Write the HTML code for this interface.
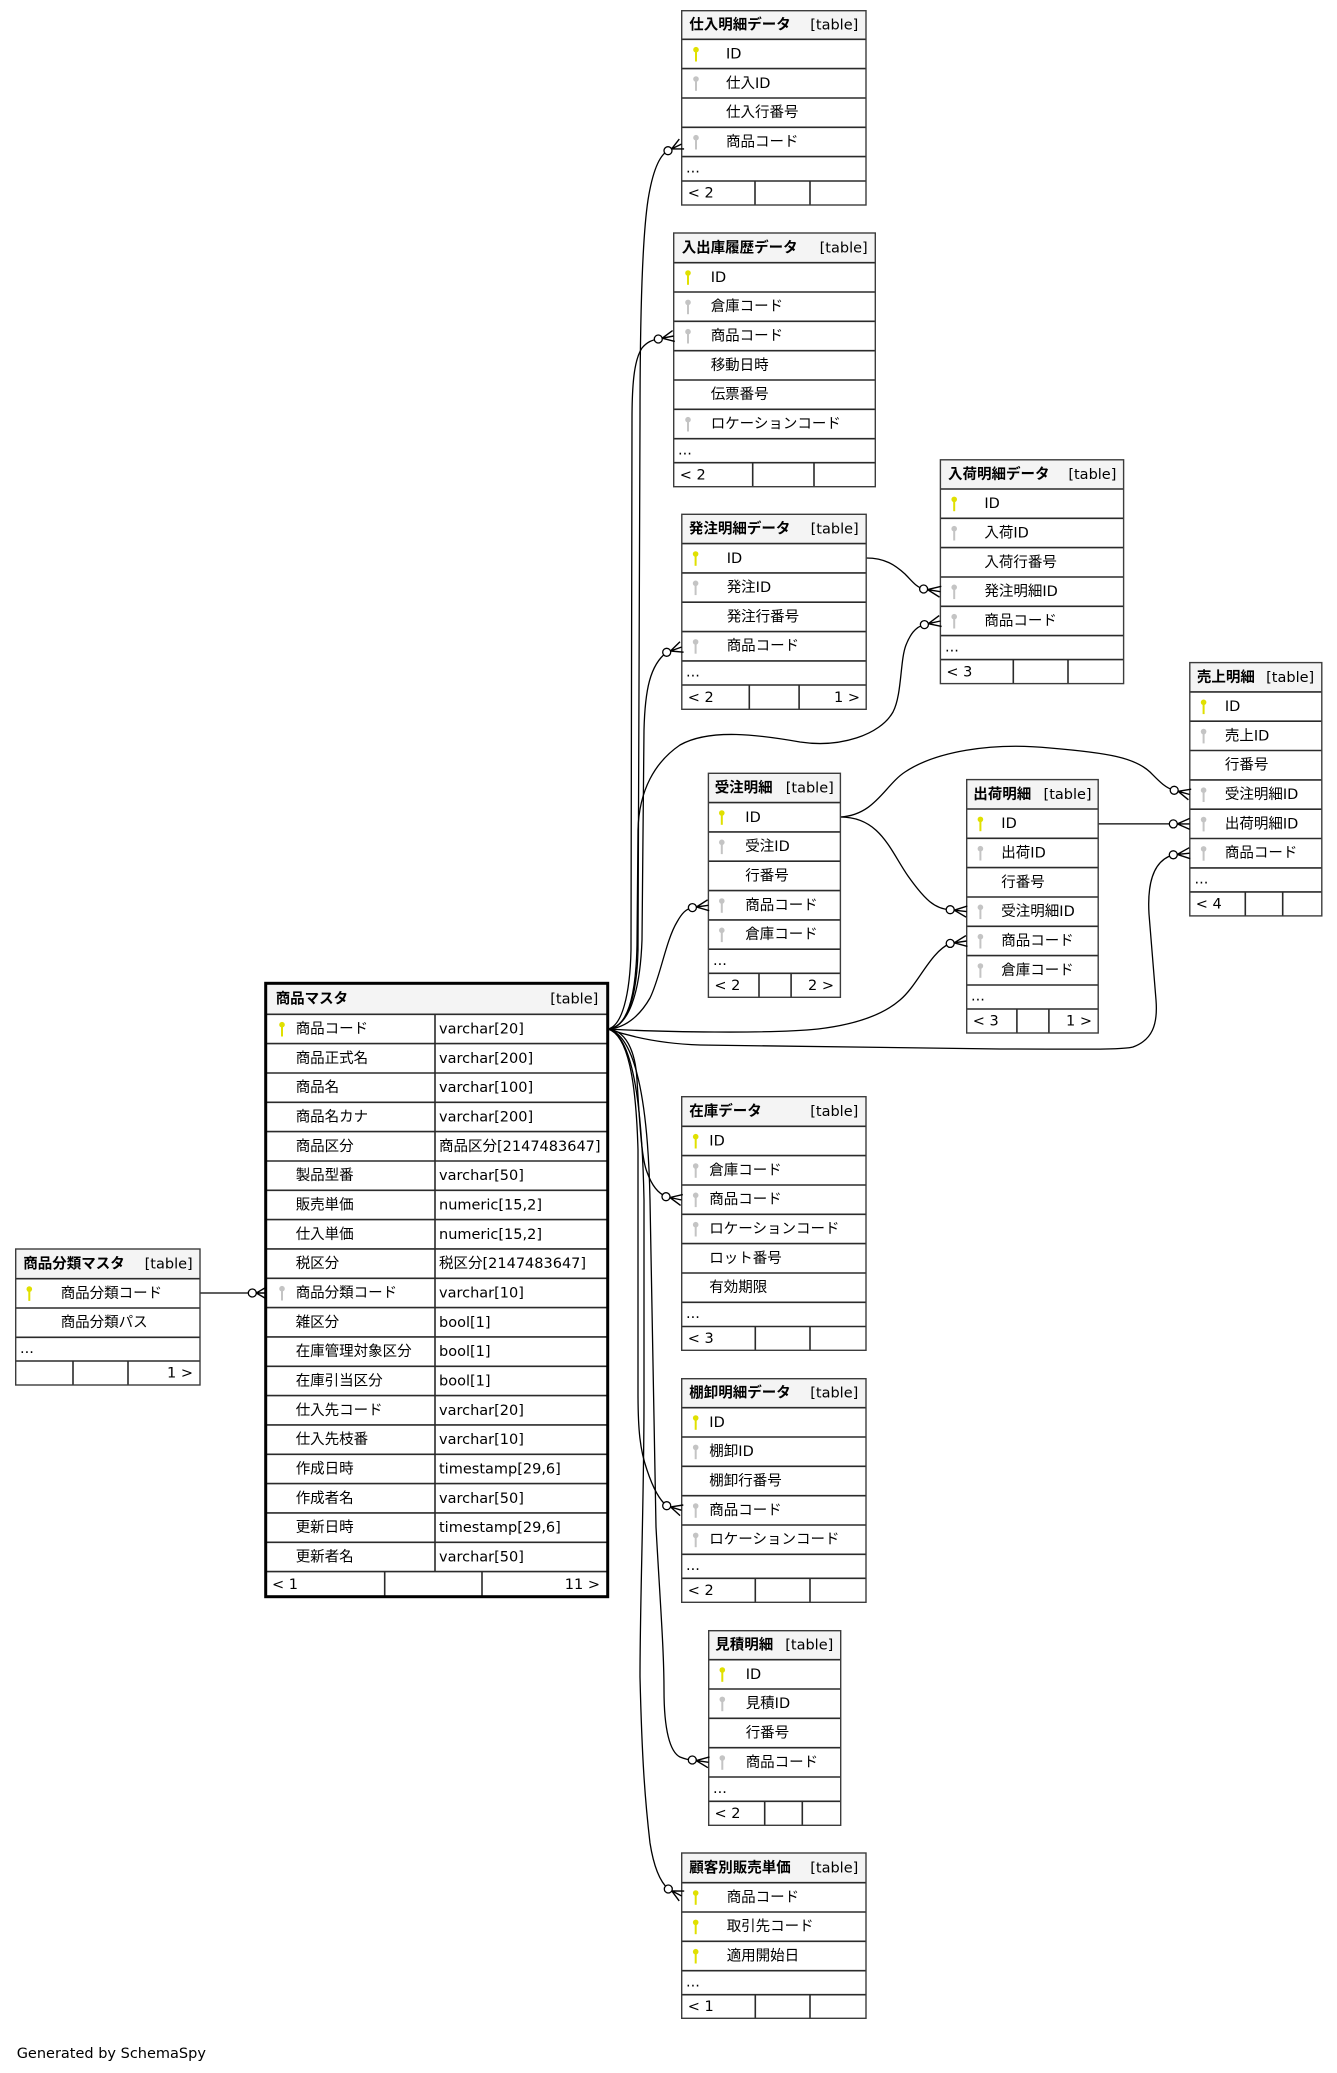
<!DOCTYPE html>
<html><head><meta charset="utf-8"><style>
html,body{margin:0;padding:0;background:#fff;}
svg{display:block;}
svg text{font-family:"DejaVu Sans","Noto Sans CJK JP",sans-serif;font-size:14.5px;fill:#000;}
.h{font-weight:bold;}
.r{text-anchor:end;}
.ln{stroke:#2b2b2b;stroke-width:1.6;fill:none;}
.ob{fill:none;stroke:#3c3c3c;stroke-width:1.4;}
.e{fill:none;stroke:#000;stroke-width:1.3;}
.cr{fill:none;stroke:#000;stroke-width:1.4;}
.c{fill:#fff;stroke:#000;stroke-width:1.3;}
.pk{fill:#e0e000;}
.fk{fill:#c4c4c4;}
.hd{fill:#f4f4f4;}
</style></head><body>
<svg width="1337" height="2073" viewBox="0 0 1337 2073" xmlns="http://www.w3.org/2000/svg">
<defs><g id="ky"><circle cx="0" cy="-4.3" r="2.8"/><rect x="-1" y="-3" width="2" height="10.5"/></g></defs>
<rect x="0" y="0" width="1337" height="2073" fill="#fff"/>

<!-- edges -->
<path class="e" d="M608,1029 C628,1027 637,995 638,950 L640,420 C640,330 642,240 648,200 C652,175 658,156 668,150.7"/>
<path class="e" d="M608,1029 C622,1026 630,995 631,950 L632,420 C632,385 634,360 642,348 C647,342 652,340 658.3,339"/>
<path class="e" d="M608,1029 C628,1027 640,995 642,940 L644,730 C645,690 650,665 666.7,652.3"/>
<path class="e" d="M608,1029 C628,1028 636,995 637,945 L638,830 C639,790 655,762 680,745 C710,728 760,735 800,742 C840,748 880,735 893,712 C902,695 900,660 906,645 C910,635 915,627 924.4,624.6"/>
<path class="e" d="M608,1029 C628,1028 642,1012 650,998 C660,978 666,940 677,922 C682,913 686,909 692.4,907.6"/>
<path class="e" d="M608,1029 C660,1032 770,1034 818,1029 C860,1024 885,1013 900,1000 C918,985 930,952 950.2,943.4"/>
<path class="e" d="M608,1029 C640,1040 670,1044 700,1045 L1000,1049 C1080,1049 1122,1050 1133,1047 C1152,1040 1158,1025 1156,1000 L1149,914 C1147,880 1155,860 1173.3,854.8"/>
<path class="e" d="M608,1029 C630,1031 636,1060 637,1080 C640,1130 642,1160 647,1172 C652,1186 658,1193 666,1196.7"/>
<path class="e" d="M608,1029 C628,1035 636,1080 638,1150 L638,1393 C638,1430 640,1450 647,1470 C652,1485 658,1499 666.7,1505.7"/>
<path class="e" d="M608,1029 C635,1035 648,1100 650,1200 L656,1527 C660,1600 664,1650 664,1690 C664,1730 670,1752 680,1757 C685,1759 688,1760 692.3,1760"/>
<path class="e" d="M608,1029 C632,1035 642,1100 644,1200 L644,1400 C644,1500 640,1600 640,1677 C642,1760 645,1800 650,1843 C653,1862 658,1880 668.3,1889"/>
<path class="e" d="M200,1293 L252.3,1293"/>
<path class="e" d="M866.2,558 C885,558 895,565 905,574 C912,581 916,587 923.6,589"/>
<path class="e" d="M840.4,817 C880,817 890,850 908,876 C925,900 935,909 950.2,909.7"/>
<path class="e" d="M840.4,817 C875,815 885,785 905,772 C935,752 990,742 1050,748 C1110,753 1135,758 1150,772 C1158,780 1165,788 1174.2,790.3"/>
<path class="e" d="M1098.2,823.9 L1173.3,823.9"/>

<!-- T1 仕入明細データ -->
<rect x="681.7" y="10.7" width="184.3" height="194.3" fill="#fff"/>
<rect x="681.7" y="10.7" width="184.3" height="28.6" class="hd"/>
<path class="ln" d="M681.7,39.3H866M681.7,68.6H866M681.7,98H866M681.7,127.3H866M681.7,156.6H866M681.7,181H866M755,181V205M810,181V205"/>
<rect x="681.7" y="10.7" width="184.3" height="194.3" class="ob"/>
<text x="689.3" y="29.5" class="h">仕入明細データ</text><text x="858.3" y="29.5" class="r">[table]</text>
<use href="#ky" x="696" y="54" class="pk"/><text x="726" y="58.5">ID</text>
<use href="#ky" x="696" y="83.3" class="fk"/><text x="726" y="87.8">仕入ID</text>
<text x="726" y="117.1">仕入行番号</text>
<use href="#ky" x="696" y="142" class="fk"/><text x="726" y="146.5">商品コード</text>
<text x="686" y="172.5">...</text>
<text x="687.7" y="197.7">&lt; 2</text>

<!-- T2 入出庫履歴データ -->
<rect x="673.7" y="233" width="201.6" height="253.7" fill="#fff"/>
<rect x="673.7" y="233" width="201.6" height="29.7" class="hd"/>
<path class="ln" d="M673.7,262.7H875.3M673.7,292H875.3M673.7,321.3H875.3M673.7,350.7H875.3M673.7,380H875.3M673.7,409.3H875.3M673.7,438.7H875.3M673.7,462.7H875.3M752.7,462.7V486.7M814,462.7V486.7"/>
<rect x="673.7" y="233" width="201.6" height="253.7" class="ob"/>
<text x="681.7" y="252.4" class="h">入出庫履歴データ</text><text x="867.7" y="252.4" class="r">[table]</text>
<use href="#ky" x="688" y="277.3" class="pk"/><text x="710.7" y="281.8">ID</text>
<use href="#ky" x="688" y="306.7" class="fk"/><text x="710.7" y="311.2">倉庫コード</text>
<use href="#ky" x="688" y="336" class="fk"/><text x="710.7" y="340.5">商品コード</text>
<text x="710.7" y="369.8">移動日時</text>
<text x="710.7" y="399.2">伝票番号</text>
<use href="#ky" x="688" y="424" class="fk"/><text x="710.7" y="428.5">ロケーションコード</text>
<text x="678" y="454.5">...</text>
<text x="679.7" y="479.4">&lt; 2</text>

<!-- T3 発注明細データ -->
<rect x="681.8" y="514.3" width="184.4" height="195" fill="#fff"/>
<rect x="681.8" y="514.3" width="184.4" height="29.3" class="hd"/>
<path class="ln" d="M681.8,543.6H866.2M681.8,572.9H866.2M681.8,602.2H866.2M681.8,631.6H866.2M681.8,660.9H866.2M681.8,685H866.2M749.3,685V709.3M799.1,685V709.3"/>
<rect x="681.8" y="514.3" width="184.4" height="195" class="ob"/>
<text x="688.9" y="533.5" class="h">発注明細データ</text><text x="858.7" y="533.5" class="r">[table]</text>
<use href="#ky" x="695.6" y="558.3" class="pk"/><text x="726.7" y="562.8">ID</text>
<use href="#ky" x="695.6" y="587.6" class="fk"/><text x="726.7" y="592.1">発注ID</text>
<text x="726.7" y="621.4">発注行番号</text>
<use href="#ky" x="695.6" y="646.2" class="fk"/><text x="726.7" y="650.7">商品コード</text>
<text x="686" y="676.7">...</text>
<text x="687.8" y="701.9">&lt; 2</text><text x="860" y="701.9" class="r">1 &gt;</text>

<!-- T4 入荷明細データ -->
<rect x="940.4" y="459.8" width="183.2" height="223.8" fill="#fff"/>
<rect x="940.4" y="459.8" width="183.2" height="29.2" class="hd"/>
<path class="ln" d="M940.4,489H1123.6M940.4,518.3H1123.6M940.4,547.6H1123.6M940.4,577H1123.6M940.4,606.3H1123.6M940.4,635.6H1123.6M940.4,659.6H1123.6M1013.3,659.6V683.6M1068,659.6V683.6"/>
<rect x="940.4" y="459.8" width="183.2" height="223.8" class="ob"/>
<text x="948" y="478.9" class="h">入荷明細データ</text><text x="1116.4" y="478.9" class="r">[table]</text>
<use href="#ky" x="954.2" y="503.7" class="pk"/><text x="984.4" y="508.2">ID</text>
<use href="#ky" x="954.2" y="533" class="fk"/><text x="984.4" y="537.5">入荷ID</text>
<text x="984.4" y="566.8">入荷行番号</text>
<use href="#ky" x="954.2" y="591.6" class="fk"/><text x="984.4" y="596.1">発注明細ID</text>
<use href="#ky" x="954.2" y="621" class="fk"/><text x="984.4" y="625.5">商品コード</text>
<text x="945" y="651.3">...</text>
<text x="946.4" y="676.3">&lt; 3</text>

<!-- T5 売上明細 -->
<rect x="1189.8" y="662.6" width="132" height="253.3" fill="#fff"/>
<rect x="1189.8" y="662.6" width="132" height="29.3" class="hd"/>
<path class="ln" d="M1189.8,691.9H1321.8M1189.8,721.2H1321.8M1189.8,750.5H1321.8M1189.8,779.9H1321.8M1189.8,809.2H1321.8M1189.8,838.5H1321.8M1189.8,867.9H1321.8M1189.8,891.9H1321.8M1245.3,891.9V915.9M1282.7,891.9V915.9"/>
<rect x="1189.8" y="662.6" width="132" height="253.3" class="ob"/>
<text x="1196.9" y="681.8" class="h">売上明細</text><text x="1314.2" y="681.8" class="r">[table]</text>
<use href="#ky" x="1203.6" y="706.6" class="pk"/><text x="1224.9" y="711.1">ID</text>
<use href="#ky" x="1203.6" y="735.9" class="fk"/><text x="1224.9" y="740.4">売上ID</text>
<text x="1224.9" y="769.7">行番号</text>
<use href="#ky" x="1203.6" y="794.5" class="fk"/><text x="1224.9" y="799">受注明細ID</text>
<use href="#ky" x="1203.6" y="823.9" class="fk"/><text x="1224.9" y="828.4">出荷明細ID</text>
<use href="#ky" x="1203.6" y="853.2" class="fk"/><text x="1224.9" y="857.7">商品コード</text>
<text x="1194.5" y="883.6">...</text>
<text x="1195.8" y="908.6">&lt; 4</text>

<!-- T6 受注明細 -->
<rect x="708.4" y="773.3" width="132" height="224" fill="#fff"/>
<rect x="708.4" y="773.3" width="132" height="29.3" class="hd"/>
<path class="ln" d="M708.4,802.6H840.4M708.4,831.9H840.4M708.4,861.2H840.4M708.4,890.6H840.4M708.4,919.9H840.4M708.4,949.2H840.4M708.4,973.3H840.4M759,973.3V997.3M791.1,973.3V997.3"/>
<rect x="708.4" y="773.3" width="132" height="224" class="ob"/>
<text x="714.7" y="792.5" class="h">受注明細</text><text x="833.8" y="792.5" class="r">[table]</text>
<use href="#ky" x="721.8" y="817.3" class="pk"/><text x="745.3" y="821.8">ID</text>
<use href="#ky" x="721.8" y="846.6" class="fk"/><text x="745.3" y="851.1">受注ID</text>
<text x="745.3" y="880.4">行番号</text>
<use href="#ky" x="721.8" y="905.3" class="fk"/><text x="745.3" y="909.8">商品コード</text>
<use href="#ky" x="721.8" y="934.6" class="fk"/><text x="745.3" y="939.1">倉庫コード</text>
<text x="713" y="965">...</text>
<text x="714.4" y="990">&lt; 2</text><text x="834" y="990" class="r">2 &gt;</text>

<!-- T7 出荷明細 -->
<rect x="966.7" y="779.6" width="131.5" height="253.4" fill="#fff"/>
<rect x="966.7" y="779.6" width="131.5" height="29.4" class="hd"/>
<path class="ln" d="M966.7,809H1098.2M966.7,838.3H1098.2M966.7,867.6H1098.2M966.7,897H1098.2M966.7,926.3H1098.2M966.7,955.6H1098.2M966.7,985H1098.2M966.7,1009H1098.2M1016.9,1009V1033M1048.9,1009V1033"/>
<rect x="966.7" y="779.6" width="131.5" height="253.4" class="ob"/>
<text x="973.3" y="798.8" class="h">出荷明細</text><text x="1091.6" y="798.8" class="r">[table]</text>
<use href="#ky" x="980.4" y="823.7" class="pk"/><text x="1001.3" y="828.2">ID</text>
<use href="#ky" x="980.4" y="853" class="fk"/><text x="1001.3" y="857.5">出荷ID</text>
<text x="1001.3" y="886.8">行番号</text>
<use href="#ky" x="980.4" y="911.6" class="fk"/><text x="1001.3" y="916.1">受注明細ID</text>
<use href="#ky" x="980.4" y="941" class="fk"/><text x="1001.3" y="945.5">商品コード</text>
<use href="#ky" x="980.4" y="970.3" class="fk"/><text x="1001.3" y="974.8">倉庫コード</text>
<text x="971" y="1000.7">...</text>
<text x="972.7" y="1025.7">&lt; 3</text><text x="1092" y="1025.7" class="r">1 &gt;</text>

<!-- T8 商品マスタ -->
<rect x="265.7" y="983.3" width="342" height="613.4" fill="#fff"/>
<rect x="265.7" y="983.3" width="342" height="31" class="hd"/>
<path class="ln" d="M265.7,1014.3H607.7M265.7,1043.6H607.7M265.7,1073H607.7M265.7,1102.3H607.7M265.7,1131.6H607.7M265.7,1161H607.7M265.7,1190.3H607.7M265.7,1219.6H607.7M265.7,1248.9H607.7M265.7,1278.3H607.7M265.7,1307.6H607.7M265.7,1336.9H607.7M265.7,1366.3H607.7M265.7,1395.6H607.7M265.7,1424.9H607.7M265.7,1454.3H607.7M265.7,1483.6H607.7M265.7,1512.9H607.7M265.7,1542.3H607.7M265.7,1571.6H607.7M435,1014.3V1571.6M384.7,1571.6V1596.7M482,1571.6V1596.7"/>
<rect x="265.7" y="983.3" width="342" height="613.4" fill="none" stroke="#000" stroke-width="3"/>
<text x="275.7" y="1003.3" class="h">商品マスタ</text><text x="598.3" y="1003.3" class="r">[table]</text>
<use href="#ky" x="282" y="1029" class="pk"/><text x="295.7" y="1033.5">商品コード</text><text x="439" y="1033.5">varchar[20]</text>
<text x="295.7" y="1062.8">商品正式名</text><text x="439" y="1062.8">varchar[200]</text>
<text x="295.7" y="1092.1">商品名</text><text x="439" y="1092.1">varchar[100]</text>
<text x="295.7" y="1121.5">商品名カナ</text><text x="439" y="1121.5">varchar[200]</text>
<text x="295.7" y="1150.8">商品区分</text><text x="439" y="1150.8">商品区分[2147483647]</text>
<text x="295.7" y="1180.1">製品型番</text><text x="439" y="1180.1">varchar[50]</text>
<text x="295.7" y="1209.5">販売単価</text><text x="439" y="1209.5">numeric[15,2]</text>
<text x="295.7" y="1238.8">仕入単価</text><text x="439" y="1238.8">numeric[15,2]</text>
<text x="295.7" y="1268.1">税区分</text><text x="439" y="1268.1">税区分[2147483647]</text>
<use href="#ky" x="282" y="1293" class="fk"/><text x="295.7" y="1297.5">商品分類コード</text><text x="439" y="1297.5">varchar[10]</text>
<text x="295.7" y="1326.8">雑区分</text><text x="439" y="1326.8">bool[1]</text>
<text x="295.7" y="1356.1">在庫管理対象区分</text><text x="439" y="1356.1">bool[1]</text>
<text x="295.7" y="1385.5">在庫引当区分</text><text x="439" y="1385.5">bool[1]</text>
<text x="295.7" y="1414.8">仕入先コード</text><text x="439" y="1414.8">varchar[20]</text>
<text x="295.7" y="1444.1">仕入先枝番</text><text x="439" y="1444.1">varchar[10]</text>
<text x="295.7" y="1473.5">作成日時</text><text x="439" y="1473.5">timestamp[29,6]</text>
<text x="295.7" y="1502.8">作成者名</text><text x="439" y="1502.8">varchar[50]</text>
<text x="295.7" y="1532.1">更新日時</text><text x="439" y="1532.1">timestamp[29,6]</text>
<text x="295.7" y="1561.5">更新者名</text><text x="439" y="1561.5">varchar[50]</text>
<text x="272" y="1588.9">&lt; 1</text><text x="600" y="1588.9" class="r">11 &gt;</text>

<!-- T9 商品分類マスタ -->
<rect x="15.7" y="1249" width="184.3" height="136" fill="#fff"/>
<rect x="15.7" y="1249" width="184.3" height="29.7" class="hd"/>
<path class="ln" d="M15.7,1278.7H200M15.7,1308H200M15.7,1337.3H200M15.7,1361H200M73,1361V1385M128,1361V1385"/>
<rect x="15.7" y="1249" width="184.3" height="136" class="ob"/>
<text x="23.3" y="1268.4" class="h">商品分類マスタ</text><text x="192.7" y="1268.4" class="r">[table]</text>
<use href="#ky" x="29.3" y="1293.4" class="pk"/><text x="60.7" y="1297.9">商品分類コード</text>
<text x="60.7" y="1327.2">商品分類パス</text>
<text x="20" y="1352.8">...</text>
<text x="193" y="1377.7" class="r">1 &gt;</text>

<!-- T10 在庫データ -->
<rect x="681.7" y="1096.7" width="184.3" height="253.6" fill="#fff"/>
<rect x="681.7" y="1096.7" width="184.3" height="29.6" class="hd"/>
<path class="ln" d="M681.7,1126.3H866M681.7,1155.6H866M681.7,1185H866M681.7,1214.3H866M681.7,1243.6H866M681.7,1273H866M681.7,1302.3H866M681.7,1326.5H866M755.3,1326.5V1350.3M810,1326.5V1350.3"/>
<rect x="681.7" y="1096.7" width="184.3" height="253.6" class="ob"/>
<text x="689.3" y="1116" class="h">在庫データ</text><text x="858.3" y="1116" class="r">[table]</text>
<use href="#ky" x="695.7" y="1141" class="pk"/><text x="709.3" y="1145.5">ID</text>
<use href="#ky" x="695.7" y="1170.3" class="fk"/><text x="709.3" y="1174.8">倉庫コード</text>
<use href="#ky" x="695.7" y="1199.6" class="fk"/><text x="709.3" y="1204.1">商品コード</text>
<use href="#ky" x="695.7" y="1229" class="fk"/><text x="709.3" y="1233.5">ロケーションコード</text>
<text x="709.3" y="1262.8">ロット番号</text>
<text x="709.3" y="1292.1">有効期限</text>
<text x="686" y="1318">...</text>
<text x="687.7" y="1343">&lt; 3</text>

<!-- T11 棚卸明細データ -->
<rect x="681.7" y="1378.7" width="184.3" height="223.6" fill="#fff"/>
<rect x="681.7" y="1378.7" width="184.3" height="29" class="hd"/>
<path class="ln" d="M681.7,1407.7H866M681.7,1437H866M681.7,1466.3H866M681.7,1495.7H866M681.7,1525H866M681.7,1554.3H866M681.7,1578.3H866M755.3,1578.3V1602.3M810,1578.3V1602.3"/>
<rect x="681.7" y="1378.7" width="184.3" height="223.6" class="ob"/>
<text x="689.3" y="1397.7" class="h">棚卸明細データ</text><text x="858.3" y="1397.7" class="r">[table]</text>
<use href="#ky" x="695.7" y="1422.3" class="pk"/><text x="709.3" y="1426.8">ID</text>
<use href="#ky" x="695.7" y="1451.7" class="fk"/><text x="709.3" y="1456.2">棚卸ID</text>
<text x="709.3" y="1485.5">棚卸行番号</text>
<use href="#ky" x="695.7" y="1510.3" class="fk"/><text x="709.3" y="1514.8">商品コード</text>
<use href="#ky" x="695.7" y="1539.7" class="fk"/><text x="709.3" y="1544.2">ロケーションコード</text>
<text x="686" y="1570">...</text>
<text x="687.7" y="1595">&lt; 2</text>

<!-- T12 見積明細 -->
<rect x="708.7" y="1630.7" width="132" height="194.6" fill="#fff"/>
<rect x="708.7" y="1630.7" width="132" height="29" class="hd"/>
<path class="ln" d="M708.7,1659.7H840.7M708.7,1689H840.7M708.7,1718.3H840.7M708.7,1747.7H840.7M708.7,1777H840.7M708.7,1801.3H840.7M764.7,1801.3V1825.3M802.3,1801.3V1825.3"/>
<rect x="708.7" y="1630.7" width="132" height="194.6" class="ob"/>
<text x="715.3" y="1649.7" class="h">見積明細</text><text x="833.3" y="1649.7" class="r">[table]</text>
<use href="#ky" x="722.3" y="1674.3" class="pk"/><text x="745.7" y="1678.8">ID</text>
<use href="#ky" x="722.3" y="1703.7" class="fk"/><text x="745.7" y="1708.2">見積ID</text>
<text x="745.7" y="1737.5">行番号</text>
<use href="#ky" x="722.3" y="1762.3" class="fk"/><text x="745.7" y="1766.8">商品コード</text>
<text x="713" y="1793">...</text>
<text x="714.5" y="1818">&lt; 2</text>

<!-- T13 顧客別販売単価 -->
<rect x="681.7" y="1853" width="184.3" height="165.3" fill="#fff"/>
<rect x="681.7" y="1853" width="184.3" height="29.7" class="hd"/>
<path class="ln" d="M681.7,1882.7H866M681.7,1912H866M681.7,1941.3H866M681.7,1970.7H866M681.7,1994.7H866M755.3,1994.7V2018.3M810,1994.7V2018.3"/>
<rect x="681.7" y="1853" width="184.3" height="165.3" class="ob"/>
<text x="689.3" y="1872.3" class="h">顧客別販売単価</text><text x="858.3" y="1872.3" class="r">[table]</text>
<use href="#ky" x="695.7" y="1897.3" class="pk"/><text x="726.7" y="1901.8">商品コード</text>
<use href="#ky" x="695.7" y="1926.7" class="pk"/><text x="726.7" y="1931.2">取引先コード</text>
<use href="#ky" x="695.7" y="1956" class="pk"/><text x="726.7" y="1960.5">適用開始日</text>
<text x="686" y="1986.5">...</text>
<text x="687.7" y="2011.2">&lt; 1</text>

<!-- crow's feet -->
<path class="cr" d="M671.6,148.9L681.7,144M671.6,148.9L684.1,148.9M671.6,148.9L679.3,139.1"/>
<path class="cr" d="M662.2,338.2L673.7,336M662.2,338.2L674.8,341.4M662.2,338.2L672.6,330.6"/>
<path class="cr" d="M670.5,651L681.8,647M670.5,651L683.6,652.2M670.5,651L680,641.8"/>
<path class="cr" d="M927.6,589.6L940.4,591.7M927.6,589.6L939.5,597.1M927.6,589.6L941.3,586.3"/>
<path class="cr" d="M928.3,623.7L940.4,621M928.3,623.7L941.6,626.4M928.3,623.7L939.2,615.6"/>
<path class="cr" d="M696.4,907L708.4,905.3M696.4,907L709.2,910.7M696.4,907L707.6,899.9"/>
<path class="cr" d="M954.2,910.2L966.7,911.6M954.2,910.2L966.1,917.1M954.2,910.2L967.3,906.1"/>
<path class="cr" d="M954.2,942.8L966.7,941M954.2,942.8L967.5,946.4M954.2,942.8L965.9,935.6"/>
<path class="cr" d="M1178.1,791.3L1189.8,794.5M1178.1,791.3L1188.4,799.8M1178.1,791.3L1191.2,789.2"/>
<path class="cr" d="M1177.3,823.9L1189.8,823.9M1177.3,823.9L1189.8,829.4M1177.3,823.9L1189.8,818.4"/>
<path class="cr" d="M1177.3,854.4L1189.8,853.2M1177.3,854.4L1190.3,858.7M1177.3,854.4L1189.3,847.7"/>
<path class="cr" d="M669.9,1197.5L681.7,1200M669.9,1197.5L680.6,1205.4M669.9,1197.5L682.8,1194.6"/>
<path class="cr" d="M670.5,1506.9L681.7,1510.3M670.5,1506.9L680.1,1515.6M670.5,1506.9L683.3,1505"/>
<path class="cr" d="M696.3,1760.6L708.7,1762.3M696.3,1760.6L707.9,1767.7M696.3,1760.6L709.5,1756.9"/>
<path class="cr" d="M671.8,1890.9L681.7,1896M671.8,1890.9L679.2,1900.9M671.8,1890.9L684.2,1891.1"/>
<path class="cr" d="M256.3,1293L265.7,1293M256.3,1293L265.7,1298.5M256.3,1293L265.7,1287.5"/>
<circle class="c" cx="668" cy="150.7" r="4"/>
<circle class="c" cx="658.3" cy="339" r="4"/>
<circle class="c" cx="666.7" cy="652.3" r="4"/>
<circle class="c" cx="923.6" cy="589" r="4"/>
<circle class="c" cx="924.4" cy="624.6" r="4"/>
<circle class="c" cx="692.4" cy="907.6" r="4"/>
<circle class="c" cx="950.2" cy="909.7" r="4"/>
<circle class="c" cx="950.2" cy="943.4" r="4"/>
<circle class="c" cx="1174.2" cy="790.3" r="4"/>
<circle class="c" cx="1173.3" cy="823.9" r="4"/>
<circle class="c" cx="1173.3" cy="854.8" r="4"/>
<circle class="c" cx="666" cy="1196.7" r="4"/>
<circle class="c" cx="666.7" cy="1505.7" r="4"/>
<circle class="c" cx="692.3" cy="1760" r="4"/>
<circle class="c" cx="668.3" cy="1889" r="4"/>
<circle class="c" cx="252.3" cy="1293" r="4"/>

<text x="16.7" y="2058">Generated by SchemaSpy</text>
</svg>
</body></html>
